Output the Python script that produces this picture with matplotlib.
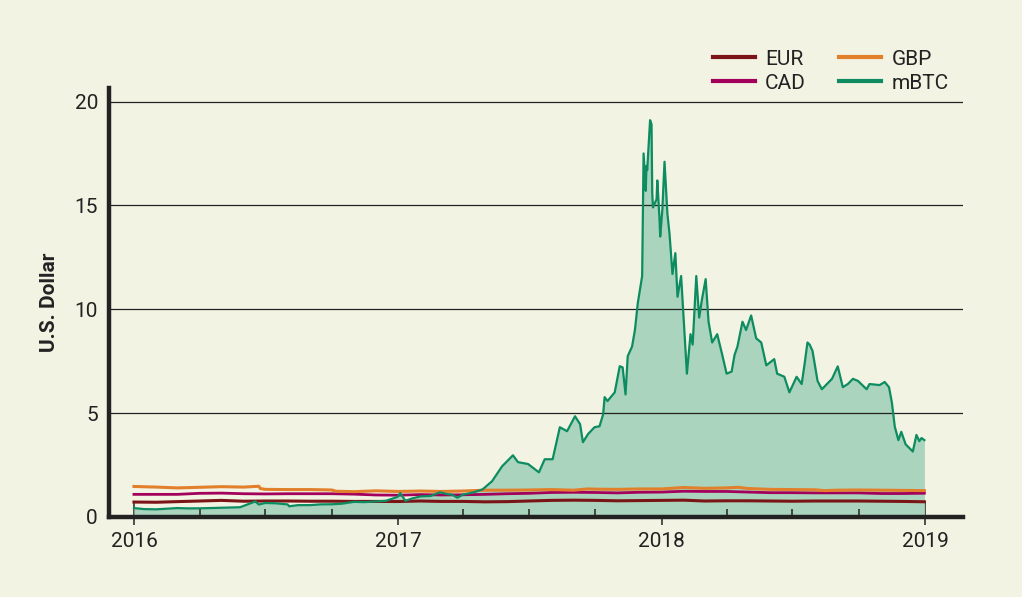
import matplotlib
matplotlib.use("Agg")
import matplotlib.pyplot as plt
import matplotlib.dates as mdates
import numpy as np

# ---------------- data ----------------
btc_dates = [
    "2016-01-01","2016-01-15","2016-02-01","2016-02-15","2016-03-01","2016-03-15","2016-04-01",
    "2016-04-15","2016-05-01","2016-05-15","2016-05-27","2016-06-01","2016-06-12","2016-06-17",
    "2016-06-22","2016-07-01","2016-07-15","2016-08-01","2016-08-03","2016-08-15","2016-09-01",
    "2016-09-15","2016-10-01","2016-10-15","2016-11-01","2016-11-15","2016-12-01","2016-12-15",
    "2016-12-31",
    "2017-01-04","2017-01-11","2017-01-20","2017-02-01","2017-02-15","2017-02-28","2017-03-10",
    "2017-03-17","2017-03-24","2017-04-01","2017-04-15","2017-04-28","2017-05-11","2017-05-25",
    "2017-06-09","2017-06-16","2017-06-30","2017-07-15","2017-07-23","2017-08-03","2017-08-13",
    "2017-08-23","2017-09-03","2017-09-10","2017-09-14","2017-09-21","2017-09-30","2017-10-07",
    "2017-10-12","2017-10-14","2017-10-18","2017-10-28","2017-11-04","2017-11-08","2017-11-12",
    "2017-11-15","2017-11-21","2017-11-25","2017-11-29","2017-12-05","2017-12-06","2017-12-07",
    "2017-12-10","2017-12-11","2017-12-12","2017-12-16","2017-12-18","2017-12-19","2017-12-20",
    "2017-12-25","2017-12-26","2017-12-29","2017-12-30",
    "2018-01-02","2018-01-05","2018-01-09","2018-01-12","2018-01-16","2018-01-20","2018-01-23",
    "2018-01-28","2018-02-02","2018-02-05","2018-02-10","2018-02-13","2018-02-18","2018-02-22",
    "2018-02-26","2018-03-03","2018-03-07","2018-03-12","2018-03-19","2018-03-26","2018-04-01",
    "2018-04-08","2018-04-12","2018-04-16","2018-04-23","2018-04-28","2018-05-05","2018-05-12",
    "2018-05-19","2018-05-26","2018-06-06","2018-06-10","2018-06-20","2018-06-27","2018-07-07",
    "2018-07-14","2018-07-18","2018-07-22","2018-07-25","2018-07-29","2018-08-05","2018-08-11",
    "2018-08-18","2018-08-25","2018-09-02","2018-09-09","2018-09-16","2018-09-23","2018-09-30",
    "2018-10-12","2018-10-16","2018-10-30","2018-11-06","2018-11-12","2018-11-16","2018-11-20",
    "2018-11-25","2018-11-29","2018-12-05","2018-12-15","2018-12-20","2018-12-24","2018-12-27",
    "2018-12-31",
]
btc_values = [
    0.43, 0.38, 0.37, 0.40, 0.43, 0.415, 0.417,
    0.43, 0.45, 0.455, 0.47, 0.535, 0.68, 0.75,
    0.60, 0.675, 0.66, 0.605, 0.515, 0.57, 0.572,
    0.607, 0.613, 0.64, 0.73, 0.715, 0.75, 0.78,
    0.965,
    1.15, 0.78, 0.89, 0.99, 1.01, 1.19, 1.10,
    1.07, 0.93, 1.08, 1.18, 1.33, 1.72, 2.44,
    2.97, 2.64, 2.55, 2.15, 2.78, 2.78, 4.32,
    4.13, 4.85, 4.47, 3.60, 3.99, 4.32, 4.37,
    4.95, 5.77, 5.58, 6.00, 7.26, 7.20, 5.90,
    7.74, 8.20, 9.00, 10.30, 11.60, 14.50, 17.50,
    15.70, 16.90, 16.70, 19.10, 18.90, 15.60, 14.90,
    15.30, 16.20, 14.40, 13.50,
    14.80, 17.10, 14.60, 13.60, 11.70, 12.70, 10.60,
    11.60, 8.70, 6.90, 8.80, 8.30, 11.60, 9.60,
    10.50, 11.45, 9.40, 8.40, 8.80, 7.80, 6.90,
    7.00, 7.80, 8.20, 9.40, 9.00, 9.70, 8.60,
    8.40, 7.30, 7.60, 6.90, 6.75, 6.00, 6.75,
    6.40, 7.35, 8.40, 8.30, 8.00, 6.55, 6.15,
    6.40, 6.65, 7.25, 6.25, 6.40, 6.65, 6.55,
    6.15, 6.40, 6.35, 6.50, 6.25, 5.50, 4.35,
    3.70, 4.10, 3.50, 3.15, 3.95, 3.65, 3.80,
    3.70,
]

gbp_dates = [
    "2016-01-01","2016-02-01","2016-03-01","2016-04-01","2016-05-01","2016-06-01","2016-06-22",
    "2016-06-24","2016-07-01","2016-08-01","2016-09-01","2016-10-01","2016-10-07","2016-11-01",
    "2016-12-01","2017-01-01","2017-02-01","2017-03-01","2017-04-01","2017-05-01","2017-06-01",
    "2017-07-01","2017-08-01","2017-09-01","2017-09-20","2017-10-01","2017-11-01","2017-12-01",
    "2018-01-01","2018-02-01","2018-03-01","2018-04-01","2018-04-17","2018-05-01","2018-06-01",
    "2018-07-01","2018-08-01","2018-08-15","2018-09-01","2018-10-01","2018-11-01","2018-12-01",
    "2018-12-31",
]
gbp_values = [
    1.47, 1.44, 1.40, 1.43, 1.46, 1.44, 1.48,
    1.37, 1.33, 1.32, 1.32, 1.30, 1.24, 1.22,
    1.26, 1.23, 1.25, 1.23, 1.25, 1.29, 1.29,
    1.30, 1.32, 1.29, 1.35, 1.34, 1.33, 1.35,
    1.35, 1.42, 1.38, 1.40, 1.43, 1.37, 1.33,
    1.32, 1.31, 1.27, 1.29, 1.30, 1.29, 1.28,
    1.27,
]

month_dates = [
    "2016-01-01","2016-02-01","2016-03-01","2016-04-01","2016-05-01","2016-06-01","2016-07-01",
    "2016-08-01","2016-09-01","2016-10-01","2016-11-01","2016-12-01","2017-01-01","2017-02-01",
    "2017-03-01","2017-04-01","2017-05-01","2017-06-01","2017-07-01","2017-08-01","2017-09-01",
    "2017-10-01","2017-11-01","2017-12-01","2018-01-01","2018-02-01","2018-03-01","2018-04-01",
    "2018-05-01","2018-06-01","2018-07-01","2018-08-01","2018-09-01","2018-10-01","2018-11-01",
    "2018-12-01","2018-12-31",
]
cad_values = [
    1.09, 1.09, 1.09, 1.14, 1.15, 1.12, 1.11,
    1.12, 1.12, 1.12, 1.10, 1.06, 1.05, 1.08,
    1.06, 1.07, 1.09, 1.12, 1.14, 1.18, 1.19,
    1.18, 1.16, 1.19, 1.20, 1.24, 1.23, 1.23,
    1.20, 1.17, 1.17, 1.16, 1.16, 1.16, 1.13,
    1.13, 1.145,
]
eur_values = [
    0.72, 0.71, 0.74, 0.77, 0.80, 0.76, 0.77,
    0.77, 0.76, 0.76, 0.75, 0.75, 0.745, 0.77,
    0.75, 0.75, 0.73, 0.74, 0.77, 0.80, 0.81,
    0.80, 0.78, 0.79, 0.80, 0.81, 0.77, 0.78,
    0.78, 0.77, 0.76, 0.77, 0.77, 0.77, 0.76,
    0.75, 0.733,
]

year_ticks = ["2016-01-01", "2017-01-01", "2018-01-01", "2019-01-01"]
year_labels = ["2016", "2017", "2018", "2019"]
quarter_ticks = [f"{y}-{m:02d}-01" for y in (2016, 2017, 2018) for m in (4, 7, 10)]

# ---------------- style ----------------
BG = "#F3F3E4"
C_EUR = "#7B1416"
C_GBP = "#E27F2B"
C_CAD = "#A2005B"
C_BTC = "#0C8C60"
C_FILL = "#AAD4BD"
INK = "#222222"

plt.rcParams["font.family"] = ["Roboto", "DejaVu Sans"]

fig = plt.figure(figsize=(10.22, 5.97), dpi=100, facecolor=BG)
ax = fig.add_axes([109/1022, 1-517/597, (963-109)/1022, (517-88)/597])
ax.set_facecolor(BG)

bx = mdates.datestr2num(btc_dates)
gx = mdates.datestr2num(gbp_dates)
mx = mdates.datestr2num(month_dates)

ax.fill_between(bx, 0, btc_values, color=C_FILL, lw=0, zorder=1)
ax.plot(mx, eur_values, color=C_EUR, lw=2.2, label="EUR", zorder=3)
ax.plot(mx, cad_values, color=C_CAD, lw=2.0, label="CAD", zorder=3)
ax.plot(gx, gbp_values, color=C_GBP, lw=2.2, label="GBP", zorder=3)
ax.plot(bx, btc_values, color=C_BTC, lw=1.6, label="mBTC", zorder=4)

x0 = mdates.datestr2num("2016-01-01") - 34.6
x1 = mdates.datestr2num("2019-01-01") + 52.5
ax.set_xlim(x0, x1)
ax.set_ylim(0, 20.65)

ax.set_yticks([0, 5, 10, 15, 20])
ax.yaxis.grid(True, color=INK, lw=0.9, zorder=2.5)
ax.set_axisbelow(False)
ax.tick_params(axis="y", length=0, pad=8, labelsize=15, labelcolor=INK)

yt = mdates.datestr2num(year_ticks)
ax.set_xticks(yt)
ax.set_xticklabels(year_labels)
ax.set_xticks(mdates.datestr2num(quarter_ticks), minor=True)
ax.tick_params(axis="x", which="major", direction="out", length=6, width=1.1,
               color=INK, pad=5, labelsize=15, labelcolor=INK)
ax.tick_params(axis="x", which="minor", direction="in", length=6, width=1.1, color=INK)

sec = ax.secondary_xaxis("bottom")
sec.set_xticks(yt)
sec.set_xticklabels([])
sec.tick_params(axis="x", direction="in", length=11, width=1.1, color=INK)
sec.spines["bottom"].set_visible(False)

for s in ("top", "right"):
    ax.spines[s].set_visible(False)
for s in ("left", "bottom"):
    ax.spines[s].set_linewidth(3.2)
    ax.spines[s].set_color(INK)

ax.set_ylabel("U.S. Dollar", fontsize=15, fontweight="bold", color=INK, labelpad=11)

handles, labels = ax.get_legend_handles_labels()
leg = fig.legend(handles, labels,
                 ncol=2, frameon=False, loc="upper right",
                 bbox_to_anchor=(963/1022, 1-35/597), fontsize=15,
                 handlelength=2.0, handletextpad=0.5, columnspacing=1.6,
                 labelspacing=0.25, borderpad=0.2)
for t in leg.get_texts():
    t.set_color(INK)
for h in leg.legend_handles:
    h.set_linewidth(3)

fig.savefig("out.png", dpi=100, facecolor=BG)
